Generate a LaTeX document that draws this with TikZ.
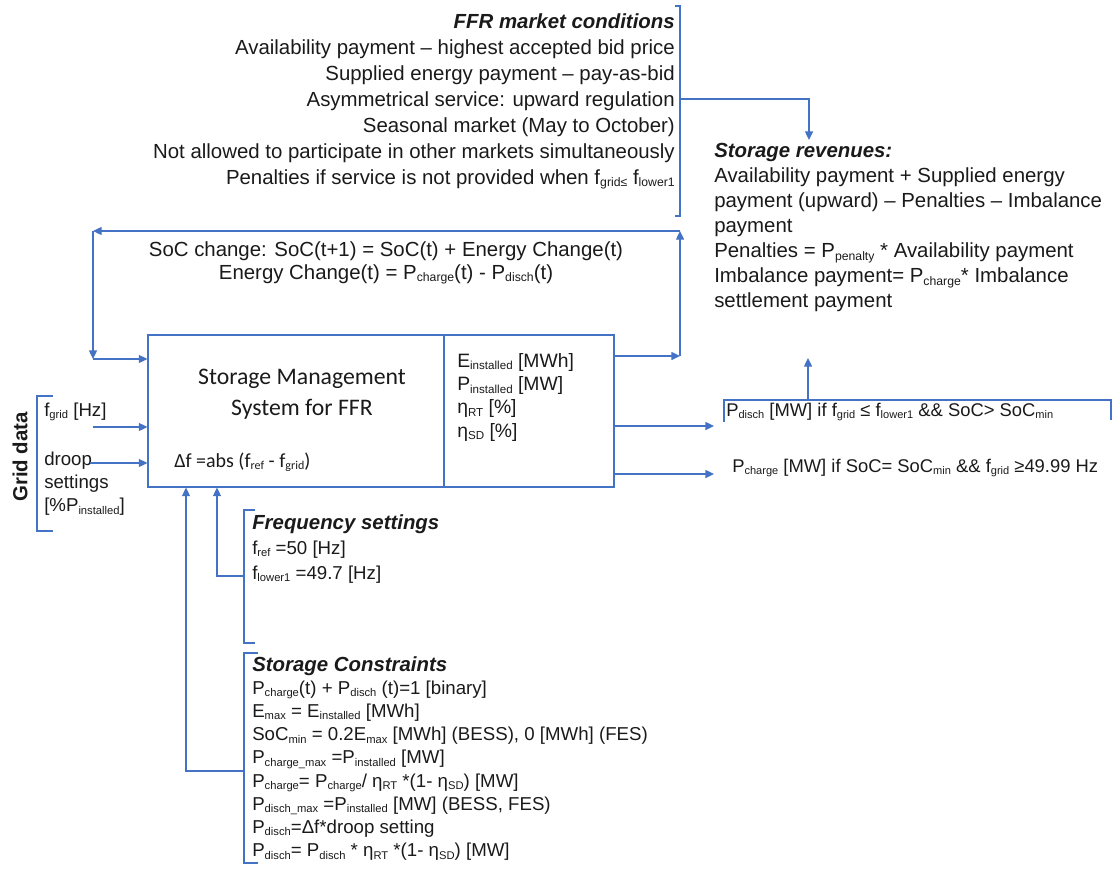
\documentclass[tikz,border=0pt]{standalone}
\usepackage{fontspec}
\usepackage{graphicx}
\setmainfont{Liberation Sans}
\newfontfamily\calibrifont{Carlito}
\usetikzlibrary{arrows.meta,positioning}
\definecolor{LineBlue}{HTML}{4472C4}
\definecolor{InkGrey}{HTML}{1A1A1A}
\newcommand{\lo}[1]{\raisebox{-0.25ex}{\scalebox{0.6}{#1}}}
\tikzset{
  % text blocks
  TX/.style={inner sep=0pt,text=InkGrey,font=\fontsize{15.3}{18.75}\selectfont},
  TS/.style={inner sep=0pt,text=InkGrey,font=\fontsize{14}{17.4}\selectfont},
  % management box halves
  BX/.style={rectangle,draw=LineBlue,line width=0.8pt,minimum height=114pt,inner sep=0pt},
  % connectors and brackets
  arr/.style={-{Triangle[length=6.5pt,width=6pt]},LineBlue,line width=1pt},
  brk/.style={LineBlue,line width=0.9pt}
}
\begin{document}
\begin{tikzpicture}[x=0.75pt,y=-0.75pt,every node/.style={align=left}]
  \useasboundingbox (0,0) rectangle (1112,870);
  % market conditions
  \node[TX,anchor=north east,align=right,font=\fontsize{15.3}{19.5}\selectfont] (ffr) at (675,13)
    {\textbf{\textit{FFR market conditions}}\\
     Availability payment – highest accepted bid price\\
     Supplied energy payment – pay-as-bid\\
     Asymmetrical service: upward regulation\\
     Seasonal market (May to October)\\
     Not allowed to participate in other markets simultaneously\\
     Penalties if service is not provided when f\lo{grid≤} f\lo{lower1}};
  \draw[brk] (675,6) -- (680,6) -- (680,216) -- (675,216);
  % revenues
  \node[TX,anchor=north west] (rev) at (714,143)
    {\textbf{\textit{Storage revenues:}}\\
     Availability payment + Supplied energy\\
     payment (upward) – Penalties – Imbalance\\
     payment\\
     Penalties = P\lo{penalty} * Availability payment\\
     Imbalance payment= P\lo{charge}* Imbalance\\
     settlement payment};
  \coordinate (ffrout) at (680,99);
  \coordinate (revin) at (809,140);
  \draw[arr] (ffrout) -| (revin);
  % state of charge loop
  \node[TX,anchor=north,align=center,font=\fontsize{15.3}{17.25}\selectfont] (soc) at (386,241)
    {SoC change: SoC(t+1) = SoC(t) + Energy Change(t)\\
     Energy Change(t) = P\lo{charge}(t) - P\lo{disch}(t)};
  % storage management system
  \node[BX,minimum width=222pt] (smsL) at (296,411) {};
  \node[BX,minimum width=127.5pt] (smsR) at (529,411) {};
  \node[inner sep=0pt,align=center,text=InkGrey,font=\calibrifont\fontsize{17.8}{23.25}\selectfont] (smsT) at (302,394)
    {Storage Management\\System for FFR};
  \node[inner sep=0pt,anchor=west,text=InkGrey,font=\calibrifont\fontsize{15}{18}\selectfont] (dfr) at (174,462)
    {Δf =abs (f\lo{ref} - f\lo{grid})};
  \node[TS,anchor=north west,font=\fontsize{14.5}{17.5}\selectfont] (par) at (457,353)
    {E\lo{installed} [MWh]\\ P\lo{installed} [MW]\\ η\lo{RT} [\%]\\ η\lo{SD} [\%]};
  \coordinate (lpR) at (680,356);
  \coordinate (lpTR) at (680,231);
  \coordinate (lpTL) at (93,231);
  \coordinate (lpL) at (93,359);
  \draw[arr] (lpR -| smsR.east) -- (lpR);
  \draw[arr] (lpR) -- (lpTR);
  \draw[arr] (lpTR) -- (lpTL);
  \draw[arr] (lpTL) -- (lpL);
  \draw[arr] (lpL) -- (lpL -| smsL.west);
  % grid data
  \node[inner sep=0pt,rotate=90,text=InkGrey,font=\bfseries\fontsize{15.3}{18}\selectfont] (gd) at (20,457) {Grid data};
  \draw[brk] (53,396) -- (37,396) -- (37,531) -- (53,531);
  \node[TS,anchor=west] (fg) at (44,412) {f\lo{grid} [Hz]};
  \node[TS,anchor=north west,font=\fontsize{14}{17.25}\selectfont] (droop) at (44,452)
    {droop\\ settings\\ {[}\%P\lo{installed}{]}};
  \coordinate (fgin) at (93,427);
  \coordinate (drin) at (90,463);
  \draw[arr] (fgin) -- (fgin -| smsL.west);
  \draw[arr] (drin) -- (drin -| smsL.west);
  % frequency settings
  \draw[brk] (255,510) -- (244,510) -- (244,643) -- (255,643);
  \node[TS,anchor=north west,font=\fontsize{14}{18.75}\selectfont] (freq) at (252,514)
    {\textbf{\textit{\fontsize{15.3}{18.75}\selectfont Frequency settings}}\\ f\lo{ref} =50 [Hz]\\ f\lo{lower1} =49.7 [Hz]};
  \coordinate (fqout) at (244,576);
  \coordinate (fqup) at (217,0);
  \draw[arr] (fqout) -| (fqup |- smsL.south);
  % storage constraints
  \draw[brk] (258,653) -- (244,653) -- (244,863) -- (258,863);
  \node[TS,anchor=north west] (cons) at (252,656)
    {\textbf{\textit{\fontsize{15.3}{17.4}\selectfont Storage Constraints}}\\
     P\lo{charge}(t) + P\lo{disch} (t)=1 [binary]\\
     E\lo{max} = E\lo{installed} [MWh]\\
     SoC\lo{min} = 0.2E\lo{max} [MWh] (BESS), 0 [MWh] (FES)\\
     P\lo{charge\_max} =P\lo{installed} [MW]\\
     P\lo{charge}= P\lo{charge}/ η\lo{RT} *(1- η\lo{SD}) [MW]\\
     P\lo{disch\_max} =P\lo{installed} [MW] (BESS, FES)\\
     P\lo{disch}=Δf*droop setting\\
     P\lo{disch}= P\lo{disch} * η\lo{RT} *(1- η\lo{SD}) [MW]};
  \coordinate (csout) at (244,771);
  \coordinate (csup) at (186,0);
  \draw[arr] (csout) -| (csup |- smsL.south);
  % outputs
  \coordinate (dis) at (714,426);
  \coordinate (chg) at (714,474);
  \draw[arr] (dis -| smsR.east) -- (dis);
  \draw[arr] (chg -| smsR.east) -- (chg);
  \node[TS,anchor=west,font=\fontsize{13.8}{17}\selectfont] (pdis) at (726,412)
    {P\lo{disch} [MW] if f\lo{grid} ≤ f\lo{lower1} \&\& SoC> SoC\lo{min}};
  \draw[brk] (724,422) -- (724,400) -- (1111,400) -- (1111,420);
  \coordinate (pdtop) at (808,400);
  \coordinate (upend) at (808,358);
  \draw[arr] (pdtop) -- (upend);
  \node[TS,anchor=west,font=\fontsize{13.8}{17}\selectfont] (pchg) at (732,468)
    {P\lo{charge} [MW] if SoC= SoC\lo{min} \&\& f\lo{grid} ≥49.99 Hz};
\end{tikzpicture}
\end{document}
